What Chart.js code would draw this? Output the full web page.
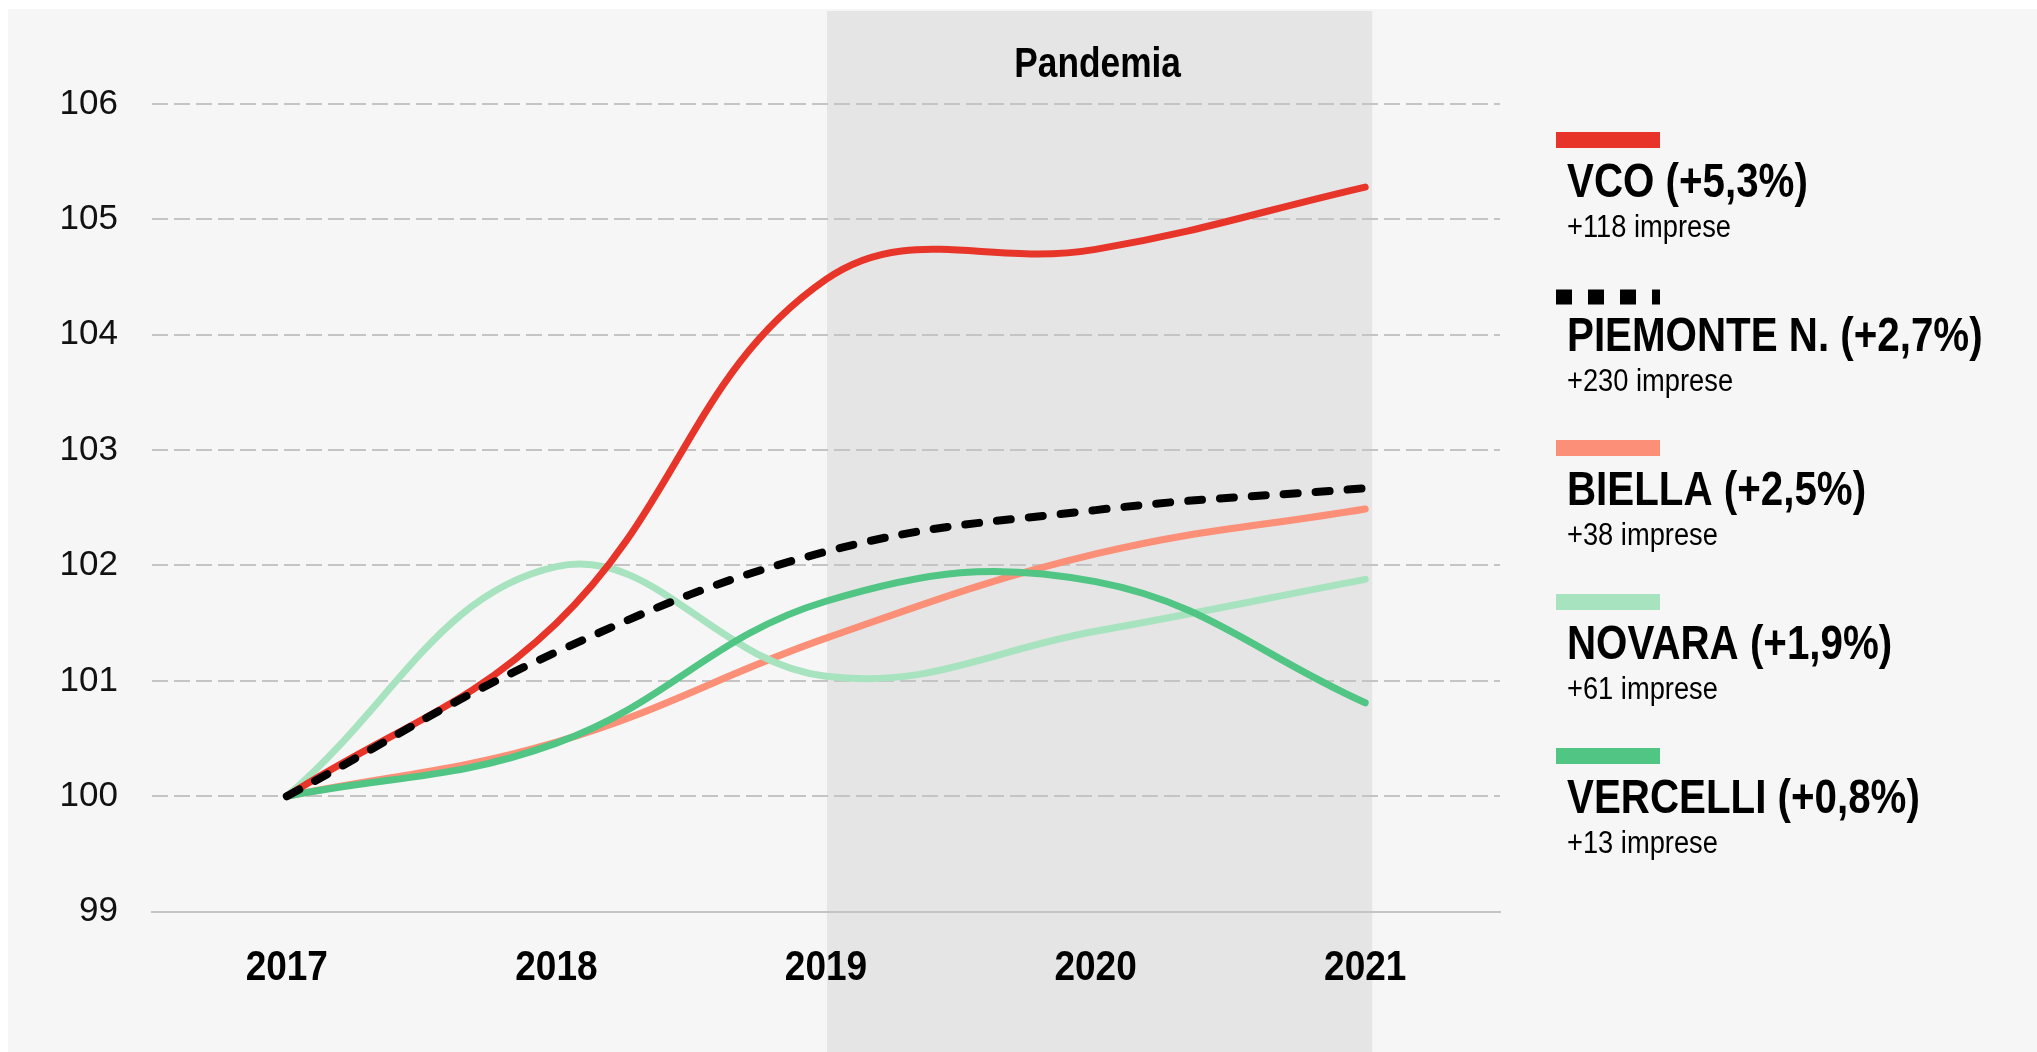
<!DOCTYPE html>
<html>
<head>
<meta charset="utf-8">
<script src="https://cdn.jsdelivr.net/npm/chart.js@4"></script>
<style>
  body { margin: 0; background: #fff; }
  canvas { display: block; }
</style>
</head>
<body>
<canvas id="myChart" width="2037" height="1052"></canvas>
<script>
// values (index, 2017 = 100)
var years = ['2017', '2018', '2019', '2020', '2021'];
var vco = [100, 101.5, 104.48, 104.74, 105.28];
var piemonte = [100, 101.25, 102.12, 102.48, 102.67];
var biella = [100, 100.47, 101.37, 102.1, 102.49];
var novara = [100, 101.99, 101.04, 101.43, 101.88];
var vercelli = [100, 100.46, 101.69, 101.86, 100.81];

var yMin = 99;
var yMax = 106;

var legendNames = ['VCO', 'PIEMONTE N.', 'BIELLA', 'NOVARA', 'VERCELLI'];
var legendChanges = ['+5,3%', '+2,7%', '+2,5%', '+1,9%', '+0,8%'];
var legendFirms = [118, 230, 38, 61, 13];

var pandemicFrom = '2019';
var pandemicTo = '2021';
var pandemicLabel = 'Pandemia';

var colors = ['#e8352a', '#000000', '#fb8f77', '#a8e3c0', '#51c584'];

var sans = "'Liberation Sans', Arial, sans-serif";

// no condensed face installed, so squeeze the regular one
function narrowText(ctx, text, x, y, font, squeeze, align) {
  ctx.save();
  ctx.font = font;
  ctx.textAlign = align || 'left';
  ctx.textBaseline = 'alphabetic';
  ctx.translate(x, y);
  ctx.scale(squeeze, 1);
  ctx.fillText(text, 0, 0);
  ctx.restore();
}

var backdrop = {
  id: 'backdrop',
  beforeDraw: function(chart) {
    var ctx = chart.ctx;
    var x = chart.scales.x;
    var x0 = x.getPixelForValue(years.indexOf(pandemicFrom));
    var x1 = x.getPixelForValue(years.indexOf(pandemicTo));
    ctx.save();
    ctx.fillStyle = '#ffffff';
    ctx.fillRect(0, 0, chart.width, chart.height);
    ctx.fillStyle = '#f6f6f6';
    ctx.fillRect(8, 9, chart.width, chart.height);
    ctx.fillStyle = '#e5e5e5';
    ctx.fillRect(x0 + 1, 11, x1 - x0 + 6, chart.height);
    ctx.fillStyle = '#000';
    narrowText(ctx, pandemicLabel, (x0 + x1) / 2 + 2, 77, 'bold 42px ' + sans, 0.84, 'center');
    ctx.restore();
  }
};

var yearLabels = {
  id: 'yearLabels',
  afterDraw: function(chart) {
    var ctx = chart.ctx;
    var x = chart.scales.x;
    ctx.save();
    ctx.fillStyle = '#000';
    x.getLabels().forEach(function(lab, i) {
      narrowText(ctx, lab, x.getPixelForValue(i), 980, 'bold 43px ' + sans, 0.86, 'center');
    });
    ctx.restore();
  }
};

var sideLegend = {
  id: 'sideLegend',
  afterDraw: function(chart) {
    var ctx = chart.ctx;
    ctx.save();
    for (var i = 0; i < legendNames.length; i++) {
      var y = 140 + i * 154;
      if (i == 1) {
        ctx.strokeStyle = colors[i];
        ctx.lineWidth = 15;
        ctx.lineCap = 'butt';
        ctx.setLineDash([16, 16]);
        ctx.beginPath();
        ctx.moveTo(1556, y + 3);
        ctx.lineTo(1660, y + 3);
        ctx.stroke();
        ctx.setLineDash([]);
      } else {
        ctx.fillStyle = colors[i];
        ctx.fillRect(1556, y - 8, 104, 16);
      }
      ctx.fillStyle = '#000';
      narrowText(ctx, legendNames[i] + ' (' + legendChanges[i] + ')', 1567, y + 57, 'bold 48px ' + sans, 0.84);
      narrowText(ctx, '+' + legendFirms[i] + ' imprese', 1567, y + 97, '31px ' + sans, 0.88);
    }
    ctx.restore();
  }
};

function lineSet(label, data, color, order) {
  return {
    label: label,
    data: data,
    borderColor: color,
    backgroundColor: color,
    borderWidth: 7,
    borderCapStyle: 'round',
    borderJoinStyle: 'round',
    pointRadius: 0,
    pointHoverRadius: 0,
    tension: 0.4,
    fill: false,
    order: order
  };
}

var piemonteSet = lineSet('PIEMONTE N.', piemonte, colors[1], 0);
piemonteSet.borderWidth = 8;
piemonteSet.borderDash = [14, 18];

var data = {
  labels: years,
  datasets: [
    lineSet('VCO', vco, colors[0], 1),
    piemonteSet,
    lineSet('BIELLA', biella, colors[2], 4),
    lineSet('NOVARA', novara, colors[3], 3),
    lineSet('VERCELLI', vercelli, colors[4], 2)
  ]
};

var options = {
  responsive: false,
  animation: false,
  events: [],
  layout: { padding: { top: 104, right: 537, bottom: 0, left: 0 } },
  plugins: {
    legend: { display: false },
    tooltip: { enabled: false }
  },
  scales: {
    x: {
      type: 'category',
      offset: true,
      grid: { display: false, drawTicks: false },
      border: { display: true, color: '#c4c4c4', width: 2 },
      ticks: { display: false },
      afterFit: function(scale) { scale.height = 140.4; }
    },
    y: {
      min: yMin,
      max: yMax,
      grid: { color: '#c4c4c4', lineWidth: 2, drawTicks: false },
      border: { display: false, dash: [16, 6] },
      ticks: {
        stepSize: 1,
        color: '#111',
        padding: 34,
        font: { family: sans, size: 35 }
      },
      afterFit: function(scale) { scale.width = 152; }
    }
  }
};

var ctx = document.getElementById('myChart').getContext('2d');
var myChart = new Chart(ctx, {
  type: 'line',
  data: data,
  options: options,
  plugins: [backdrop, yearLabels, sideLegend]
});
</script>
</body>
</html>
